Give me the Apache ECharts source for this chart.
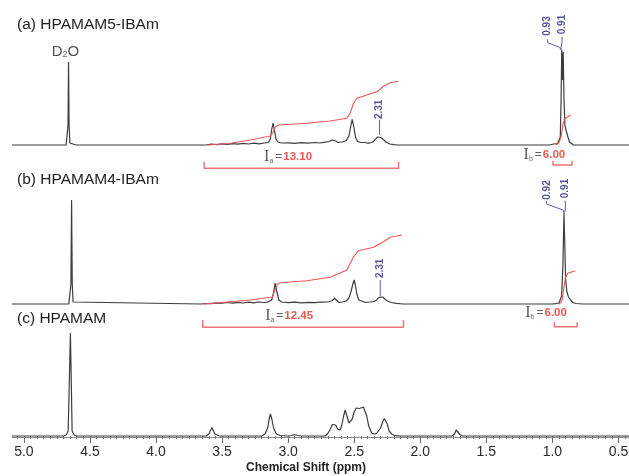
<!DOCTYPE html>
<html><head><meta charset="utf-8">
<script src="https://cdn.jsdelivr.net/npm/echarts@6/dist/echarts.min.js"></script>
<style>html,body{margin:0;padding:0;background:#fff}#c{width:629px;height:476px}</style>
</head><body><div id="c"></div>
<script>
// ---------- data (ppm, intensity above each trace's baseline) ----------
const panelTitles = ['(a) HPAMAM5-IBAm', '(b) HPAMAM4-IBAm', '(c) HPAMAM'];
const ppmTickLabels = [5.0, 4.5, 4.0, 3.5, 3.0, 2.5, 2.0, 1.5, 1.0, 0.5];
const axisTitle = 'Chemical Shift (ppm)';

const spectrumA = [[5.09,0],[4.75,0],[4.705,0],[4.70,1.2],[4.695,0],[4.68,0],[4.672,2],[4.666,20],[4.662,83],[4.658,20],[4.652,2],[4.64,0],[4.605,0],[4.60,1],[4.595,0],
[3.62,0],[3.58,0.8],[3.54,0.3],[3.50,1.2],[3.46,0.6],[3.42,1.4],[3.38,0.8],[3.34,1.6],[3.30,1],[3.26,1.8],[3.22,1.2],[3.18,2],[3.15,2.5],[3.135,6],[3.125,15],[3.114,22],[3.104,15],[3.092,6],[3.078,3],[3.05,2],[3.0,2.2],[2.95,1.6],[2.90,2.4],[2.85,1.8],[2.80,2.5],[2.76,2],[2.72,2.8],[2.69,3.5],[2.665,5],[2.652,5.7],[2.64,4],[2.62,2.5],[2.59,3],[2.56,4.5],[2.54,9],[2.527,18],[2.515,25.7],[2.503,18],[2.49,8],[2.475,3.5],[2.45,2.5],[2.42,2.5],[2.39,1.7],[2.36,3],[2.34,5.5],[2.325,8],[2.31,9],[2.30,7.5],[2.29,8],[2.275,5],[2.255,2.5],[2.23,1],[2.20,0.3],[2.17,0],
[1.02,0],[0.99,1],[0.975,0.5],[0.96,1.5],[0.95,3],[0.94,8],[0.934,45],[0.929,95],[0.924,65],[0.918,93],[0.912,45],[0.905,20],[0.897,15],[0.89,13],[0.88,7],[0.87,3],[0.855,1],[0.84,0],[0.42,0]];

const spectrumB = [[5.09,0],[4.66,0],[4.65,2],[4.644,20],[4.639,104],[4.634,20],[4.628,2],[4.615,0],
[3.66,0],[3.62,0.5],[3.58,0.3],[3.54,1.2],[3.50,0.8],[3.46,1.5],[3.42,0.8],[3.38,1.6],[3.34,1],[3.30,1.8],[3.26,1.2],[3.22,2],[3.18,1.5],[3.15,2.2],[3.125,4],[3.112,10],[3.098,21],[3.085,12],[3.07,4],[3.05,2],[3.0,1.4],[2.95,1.8],[2.90,1.2],[2.85,1.6],[2.80,1.3],[2.75,1.8],[2.70,2],[2.665,3.5],[2.648,5.7],[2.635,4],[2.615,1.5],[2.59,2],[2.56,3],[2.54,6],[2.525,12],[2.51,20],[2.5,24],[2.49,18],[2.478,9],[2.465,4],[2.45,2.5],[2.42,1.7],[2.38,2],[2.35,2.5],[2.33,4],[2.315,6.5],[2.3,8],[2.285,7],[2.275,6],[2.26,4],[2.24,2.5],[2.22,1.5],[2.18,0.7],[2.13,0],
[1.00,0],[0.99,1],[0.975,0.3],[0.95,1],[0.94,3],[0.93,8],[0.92,40],[0.912,91],[0.906,60],[0.9,25],[0.89,12],[0.878,7],[0.862,4],[0.845,1.5],[0.82,0.5],[0.77,0],[0.42,0]];

const spectrumC = [[5.09,0],[4.70,0],[4.68,1],[4.665,5],[4.655,60],[4.648,103],[4.642,60],[4.635,5],[4.62,1],[4.60,0],
[3.62,0],[3.60,2],[3.585,6],[3.577,8.5],[3.568,6],[3.555,2],[3.54,0.5],[3.52,0],
[3.20,0],[3.175,2],[3.155,8],[3.142,18],[3.134,22],[3.125,18],[3.11,8],[3.09,2],[3.06,0.5],[3.0,0],
[2.97,0.5],[2.95,1.5],[2.93,0.5],[2.90,0],
[2.72,0],[2.70,2.5],[2.68,7],[2.665,11.5],[2.652,12.7],[2.64,11],[2.625,7],[2.606,6],[2.595,10],[2.58,20],[2.568,26],[2.555,20],[2.54,13],[2.53,12.7],[2.515,17],[2.50,24],[2.485,28],[2.47,29],[2.46,27.5],[2.445,27.5],[2.43,29],[2.42,27],[2.405,20],[2.39,10],[2.375,5],[2.366,2.7],[2.345,2],[2.328,3],[2.30,8],[2.285,14],[2.272,17.5],[2.262,17.5],[2.25,12],[2.235,5],[2.214,1.7],[2.19,0.3],[2.15,0],
[1.76,0],[1.74,2],[1.728,6],[1.722,7.7],[1.715,6],[1.70,1.5],[1.68,0],[0.42,0]];

const integralA1 = [[3.606,0],[3.45,1.5],[3.364,3.3],[3.237,6.3],[3.136,9],[3.115,12],[3.098,18],[3.073,20],[2.95,21],[2.858,21.7],[2.682,24],[2.555,26.7],[2.53,32],[2.505,41.7],[2.48,46.7],[2.404,50],[2.328,53.3],[2.30,56],[2.278,59],[2.227,62.3],[2.164,63.7]];
const integralA2 = [[0.977,0],[0.952,1.7],[0.934,8],[0.919,21.7],[0.902,26.7],[0.884,28],[0.864,30]];
const integralB1 = [[3.642,0],[3.439,2.3],[3.288,4],[3.136,6.7],[3.12,7],[3.10,14],[3.08,20],[3.061,21.3],[2.858,23.3],[2.682,26.7],[2.555,34],[2.505,47.3],[2.467,53.3],[2.354,56.7],[2.278,62.3],[2.227,66.7],[2.139,69]];
const integralB2 = [[0.952,0],[0.935,1.5],[0.926,4],[0.915,15],[0.902,25.7],[0.884,30.7],[0.826,33.3]];

// brackets: [fromPpm, toPpm, tipH, barH]
const bracketsA = [[3.636,2.164,-16.7,-23.3],[0.995,0.851,-15.7,-20]];
const bracketsB = [[3.646,2.127,-16,-23.3],[0.985,0.813,-18.3,-22.7]];

// integral labels: [ppm, h, subscript, value]
const integralLabelsA = [[3.182,-12,'a','13.10'],[1.218,-10,'b','6.00']];
const integralLabelsB = [[3.174,-12,'a','12.45'],[1.205,-9,'b','6.00']];

// chemical shift labels: [ppm, h, text]
const shiftLabelsA = [[1.040,119,'0.93'],[0.927,120.5,'0.91'],[2.308,35.7,'2.31']];
const shiftLabelsB = [[1.038,114,'0.92'],[0.905,115.5,'0.91'],[2.303,35.7,'2.31']];
const connectorsA = [[[1.036,105.7],[1.036,102.3],[0.945,97.7],[0.934,95]],[[0.927,108.3],[0.927,103.3],[0.934,97.7],[0.934,95]],[[2.308,25],[2.308,10]]];
const connectorsB = [[[1.045,103.3],[1.045,100],[0.919,94],[0.914,91.3]],[[0.902,103.3],[0.902,94],[0.909,91.3]],[[2.303,24],[2.303,7.3]]];
const solventLabel = [4.79, 93];

// ---------- layout ----------
const W = 629, H = 476;
const gridBox = {left: 12, right: 0, top: 0, bottom: 39, containLabel: false, outerBoundsMode: 'none'};
const plotH = H - gridBox.top - gridBox.bottom;        // 437
const baselines = [145, 304, 436];                        // pixel row of each trace baseline
const XMIN = 0.42, XMAX = 5.09;
const FONT = '"Liberation Sans", Arial, sans-serif';
const SPEC = '#3d3d3d', RED = '#ec5656', BRK = '#ee7474', NAVY = '#2b2b80', LINK = '#5c5cb0';

const minorTicks = [];
for (let k = 9; k <= 101; k++) { const v = +(k * 0.05).toFixed(2); if (v >= XMIN && v <= XMAX) minorTicks.push(v); }

const grids = [0,1,2].map(() => Object.assign({}, gridBox));
const xAxes = [0,1,2].map(i => ({
  type: 'value', gridIndex: i, min: XMIN, max: XMAX, inverse: true,
  show: i === 2,
  axisLine: {show: true, onZero: false, lineStyle: {color: '#8a8a8a', width: 1}},
  axisTick: {show: true, customValues: ppmTickLabels, length: 6, lineStyle: {color: '#666'}},
  axisLabel: {show: true, customValues: ppmTickLabels, formatter: v => v.toFixed(1), color: '#2a2a2a', fontSize: 14, fontFamily: FONT, margin: 8},
  splitLine: {show: false}
}));
xAxes.push({
  type: 'value', gridIndex: 2, min: XMIN, max: XMAX, inverse: true, position: 'bottom',
  axisLine: {show: false},
  axisTick: {show: true, customValues: minorTicks, length: 3, lineStyle: {color: '#777'}},
  axisLabel: {show: false}, splitLine: {show: false}
});
const yAxes = [0,1,2].map(i => ({
  type: 'value', gridIndex: i, show: false,
  min: baselines[i] - (gridBox.top + plotH), max: baselines[i] - gridBox.top,
  splitLine: {show: false}
}));

const series = [];
function line(data, i, color, width) {
  series.push({type: 'line', xAxisIndex: i, yAxisIndex: i, data, symbol: 'none', silent: true,
    lineStyle: {color, width}, z: 3});
}
line(spectrumA, 0, SPEC, 1.2); line(spectrumB, 1, SPEC, 1.2); line(spectrumC, 2, SPEC, 1.2);
line(integralA1, 0, RED, 1.1); line(integralA2, 0, RED, 1.1);
line(integralB1, 1, RED, 1.1); line(integralB2, 1, RED, 1.1);

[[bracketsA,0],[bracketsB,1]].forEach(([br,i]) => br.forEach(b => {
  line([[b[0],b[2]],[b[0],b[3]],[b[1],b[3]],[b[1],b[2]]], i, BRK, 1.5);
}));
[[connectorsA,0],[connectorsB,1]].forEach(([cs,i]) => cs.forEach(c => line(c, i, LINK, 1)));

function labels(data, i, formatter, labelOpt) {
  series.push({type: 'scatter', xAxisIndex: i, yAxisIndex: i, symbolSize: 0, silent: true, z: 5,
    data: data.map(d => ({value: [d[0], d[1]], raw: d})),
    label: Object.assign({show: true, position: 'inside', formatter: p => formatter(p.data.raw)}, labelOpt)});
}
const shiftLabelOpt = {rotate: 90, align: 'center', verticalAlign: 'middle', color: NAVY, fontSize: 10, fontWeight: 'bold', fontFamily: FONT};
labels(shiftLabelsA, 0, d => d[2], shiftLabelOpt);
labels(shiftLabelsB, 1, d => d[2], shiftLabelOpt);

const integralRich = {
  i: {fontFamily: '"Liberation Serif", serif', fontSize: 16, color: '#333'},
  s: {fontFamily: FONT, fontSize: 7, color: '#333', verticalAlign: 'bottom', padding: [0, 1, 0, 0]},
  e: {fontFamily: FONT, fontSize: 12, color: '#333', padding: [0, 1, 0, 1]},
  v: {fontFamily: FONT, fontSize: 11.5, fontWeight: 'bold', color: '#e52a2a'}
};
const intLabelOpt = {align: 'left', verticalAlign: 'middle', rich: integralRich};
labels(integralLabelsA, 0, d => `{i|I}{s|${d[2]}}{e|=}{v|${d[3]}}`, intLabelOpt);
labels(integralLabelsB, 1, d => `{i|I}{s|${d[2]}}{e|=}{v|${d[3]}}`, intLabelOpt);

labels([solventLabel], 0, () => '{t|D}{s|2}{t|O}', {align: 'left', verticalAlign: 'middle',
  rich: {t: {fontFamily: FONT, fontSize: 15, color: '#222'}, s: {fontFamily: FONT, fontSize: 9, color: '#444', verticalAlign: 'bottom'}}});

const titleRows = [25, 180, 319];
const graphic = panelTitles.map((t, k) => ({
  type: 'text', silent: true,
  style: {text: t, x: 17, y: titleRows[k], verticalAlign: 'middle', fill: '#1f1f1f', font: '15.5px ' + FONT}
}));
graphic.push({type: 'text', silent: true,
  style: {text: axisTitle, x: 306, y: 468, align: 'center', verticalAlign: 'middle', fill: '#1f1f1f', font: 'bold 12px ' + FONT}});

const chart = echarts.init(document.getElementById('c'), null, {renderer: 'canvas'});
chart.setOption({
  animation: false, backgroundColor: '#fff',
  grid: grids, xAxis: xAxes, yAxis: yAxes, series, graphic
});
</script></body></html>
